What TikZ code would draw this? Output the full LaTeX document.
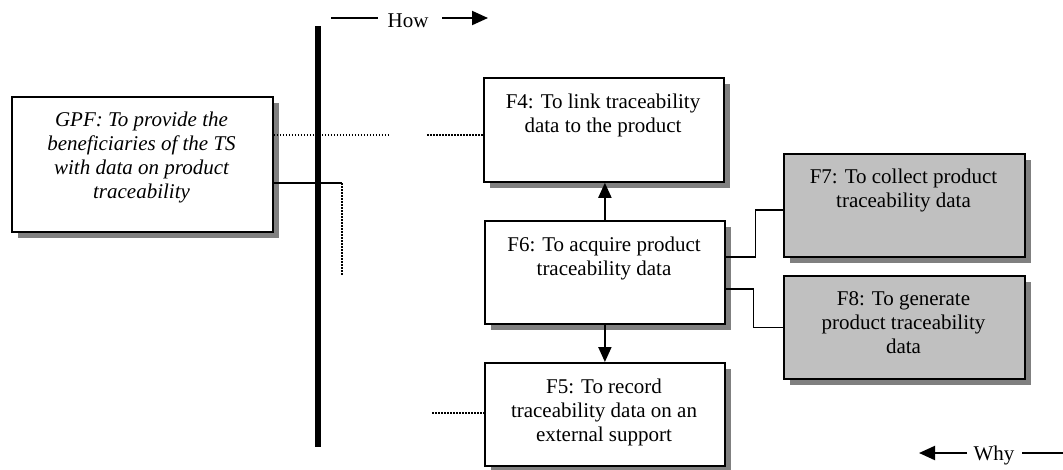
\documentclass[tikz,border=0pt]{standalone}
\usepackage{fontspec}
\setmainfont{Liberation Serif}
\usetikzlibrary{arrows.meta,shadows}
\definecolor{shadowgray}{HTML}{808080}
\definecolor{boxgray}{HTML}{C0C0C0}
\tikzset{
  fbox/.style={draw, line width=1.8pt, fill=white, rectangle, inner sep=0pt, anchor=north west,
    drop shadow={shadow xshift=6pt, shadow yshift=-6pt, fill=shadowgray, opacity=1}},
  gbox/.style={fbox, fill=boxgray},
  txt/.style={align=center, anchor=base, inner sep=0pt, font=\fontsize{21}{24}\selectfont},
  conn/.style={line width=1.3pt},
  dots/.style={line width=1.5pt, dash pattern=on 1.5pt off 1.5pt},
  arr/.style={line width=2pt, -{Triangle[length=15pt,width=13pt]}},
  harr/.style={line width=2pt, -{Triangle[length=16pt,width=14pt]}},
  hline/.style={line width=1.5pt}
}
\begin{document}
\begin{tikzpicture}[x=1pt,y=-1pt]
\useasboundingbox (0,0) rectangle (1063,469);

% boxes
\node[fbox, minimum width=261pt, minimum height=135pt] (GPF) at (11,96) {};
\node[fbox, minimum width=240pt, minimum height=104pt] (F4) at (483,77) {};
\node[fbox, minimum width=240pt, minimum height=103pt] (F6) at (484,220) {};
\node[fbox, minimum width=240pt, minimum height=103pt] (F5) at (484,362) {};
\node[gbox, minimum width=241pt, minimum height=103pt] (F7) at (783,153) {};
\node[gbox, minimum width=241pt, minimum height=103pt] (F8) at (783,275) {};

% texts (anchor=base is the baseline of the last line)
\node[txt, font=\fontsize{21}{24}\selectfont\itshape] (GPFt) at (141.5,198) {GPF: To provide the\\beneficiaries of the TS\\with data on product\\traceability};
\node[txt] (F4t) at (603,132) {F4: To link traceability\\data to the product};
\node[txt] (F6t) at (604,275) {F6: To acquire product\\traceability data};
\node[txt] (F5t) at (604,441) {F5: To record\\traceability data on an\\external support};
\node[txt] (F7t) at (903.5,207) {F7: To collect product\\traceability data};
\node[txt] (F8t) at (903.5,353) {F8: To generate\\product traceability\\data};

% thick how/why line
\coordinate (t1) at (318,26);
\coordinate (t2) at (318,447);
\draw[line width=6pt] (t1) -- (t2);

% GPF connectors
\coordinate (d1) at (389,135);
\coordinate (d2) at (427,135);
\draw[dots] (GPF.east |- d1) -- (d1);
\draw[dots] (d2) -- (F4.west |- d2);
\coordinate (s1) at (342,183);
\coordinate (s2) at (342,276);
\draw[conn] (GPF.east |- s1) -- (s1);
\draw[dots] (s1) -- (s2);
\coordinate (d3) at (432,413);
\draw[dots] (d3) -- (F5.west |- d3);

% vertical arrows
\draw[arr] (F6.north) -- (F6.north |- F4.south);
\draw[arr] (F6.south) -- (F5.north);

% F6 to F7/F8
\draw[conn] ([yshift=15.5pt]F6.east) -- ++(30,0) |- ([yshift=-4.5pt]F7.west);
\draw[conn] ([yshift=-16.5pt]F6.east) -- ++(28,0) |- (F8.west);

% How
\node[txt] (how) at (408,27) {How};
\coordinate (h1) at (331,18);
\coordinate (h2) at (378,18);
\coordinate (h3) at (442,18);
\coordinate (h4) at (488,18);
\draw[hline] (h1) -- (h2);
\draw[harr] (h3) -- (h4);

% Why
\node[txt] (why) at (994,460) {Why};
\coordinate (w1) at (967,453);
\coordinate (w2) at (919,453);
\coordinate (w3) at (1022,453);
\coordinate (w4) at (1063,453);
\draw[harr] (w1) -- (w2);
\draw[hline] (w3) -- (w4);
\end{tikzpicture}
\end{document}
